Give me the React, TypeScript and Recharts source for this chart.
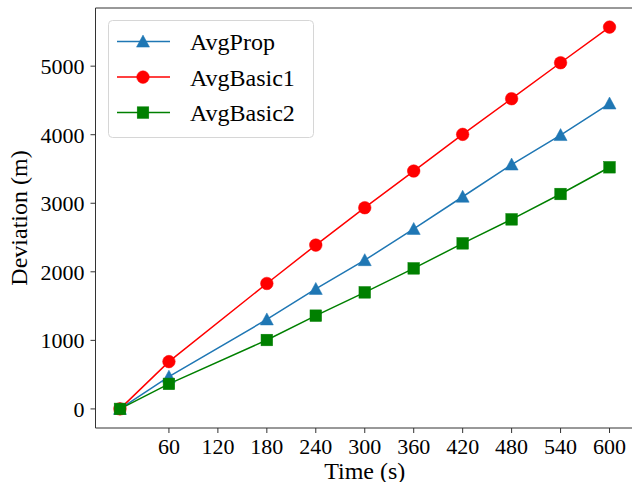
import React from 'react';
import { LineChart, Line, XAxis, YAxis, ReferenceLine, Label } from 'recharts';

const times = [0, 60, 180, 240, 300, 360, 420, 480, 540, 600];
const avgProp = [0, 470, 1305, 1750, 2170, 2625, 3095, 3565, 3995, 4455];
const avgBasic1 = [0, 690, 1830, 2390, 2935, 3470, 4005, 4525, 5050, 5570];
const avgBasic2 = [0, 365, 1005, 1360, 1700, 2050, 2415, 2765, 3135, 3525];
const xTicks = [60, 120, 180, 240, 300, 360, 420, 480, 540, 600];
const yTicks = [0, 1000, 2000, 3000, 4000, 5000];
const seriesNames = ['AvgProp', 'AvgBasic1', 'AvgBasic2'];

const X_DOMAIN: [number, number] = [-30, 630];
const Y_DOMAIN: [number, number] = [-278.5, 5848.5];

const data = times.map((t, i) => ({
  t,
  AvgProp: avgProp[i],
  AvgBasic1: avgBasic1[i],
  AvgBasic2: avgBasic2[i],
}));

const FONT = "'Liberation Serif', 'Times New Roman', Times, serif";
const BLUE = '#1f77b4';
const RED = '#ff0000';
const GREEN = '#008000';
const AXIS = '#333';

const Tri = (cx: number, cy: number, color: string, key?: any) => (
  <path key={key} d={`M${cx},${cy - 6.5} L${cx - 6.5},${cy + 5.5} L${cx + 6.5},${cy + 5.5} Z`} fill={color} stroke={color} strokeWidth={0.5} />
);
const Circ = (cx: number, cy: number, color: string, key?: any) => (
  <circle key={key} cx={cx} cy={cy} r={6.3} fill={color} stroke={color} strokeWidth={0.5} />
);
const Sq = (cx: number, cy: number, color: string, key?: any) => (
  <rect key={key} x={cx - 5.8} y={cy - 5.8} width={11.6} height={11.6} fill={color} stroke={color} strokeWidth={0.5} />
);

const markers = [Tri, Circ, Sq];
const colors = [BLUE, RED, GREEN];

const LegendBox = () => (
  <svg width={206} height={118} style={{ display: 'block' }}>
    <rect x={0.5} y={0.5} width={205} height={117} rx={4} ry={4} fill="rgba(255,255,255,0.8)" stroke="#d6d6d6" strokeWidth={1} />
    {seriesNames.map((name, i) => {
      const cy = 21.6 + i * 35.5;
      return (
        <g key={name}>
          <line x1={9} x2={62} y1={cy} y2={cy} stroke={colors[i]} strokeWidth={1.5} />
          {markers[i](35, cy, colors[i])}
          <text x={82} y={cy} dy="0.35em" style={{ fontFamily: FONT, fontSize: 24 }} fill="#000">
            {name}
          </text>
        </g>
      );
    })}
  </svg>
);

const tickStyle = { fill: '#000', fontSize: 22, style: { fontFamily: FONT } };

export default function App() {
  return (
    <div style={{ position: 'absolute', left: 0, top: 0, width: 632, height: 482, overflow: 'hidden', background: '#fff', fontFamily: FONT }}>
      <LineChart width={636} height={482} data={data} margin={{ top: 8, right: 2, bottom: 0, left: 0 }} style={{ fontFamily: FONT }}>
        <XAxis
          dataKey="t"
          type="number"
          domain={X_DOMAIN}
          ticks={xTicks}
          allowDataOverflow
          height={54}
          tickSize={5}
          tickMargin={5}
          stroke={AXIS}
          tick={tickStyle}
          axisLine={{ stroke: AXIS, strokeWidth: 1 }}
          tickLine={{ stroke: AXIS }}
        >
          <Label
            content={(p: any) => {
              const vb = p.viewBox || { x: 95.5, y: 428, width: 538.5, height: 54 };
              return (
                <text x={vb.x + vb.width / 2} y={479} textAnchor="middle" style={{ fontFamily: FONT, fontSize: 24 }} fill="#000">
                  Time (s)
                </text>
              );
            }}
          />
        </XAxis>
        <YAxis
          type="number"
          domain={Y_DOMAIN}
          ticks={yTicks}
          allowDataOverflow
          width={95.5}
          tickSize={5}
          tickMargin={6}
          stroke={AXIS}
          tick={tickStyle}
          axisLine={{ stroke: AXIS, strokeWidth: 1 }}
          tickLine={{ stroke: AXIS }}
        >
          <Label
            content={(p: any) => {
              const vb = p.viewBox || { x: 0, y: 8, width: 95.5, height: 420 };
              const cx = 26.5;
              const cy = vb.y + vb.height / 2;
              return (
                <text x={cx} y={cy} transform={`rotate(-90, ${cx}, ${cy})`} textAnchor="middle" style={{ fontFamily: FONT, fontSize: 24 }} fill="#000">
                  Deviation (m)
                </text>
              );
            }}
          />
        </YAxis>
        <ReferenceLine y={Y_DOMAIN[1]} stroke={AXIS} strokeWidth={1} />
        <Line
          dataKey="AvgProp"
          stroke={BLUE}
          strokeWidth={1.5}
          isAnimationActive={false}
          dot={(p: any) => Tri(p.cx, p.cy, BLUE, p.index)}
          activeDot={false}
        />
        <Line
          dataKey="AvgBasic1"
          stroke={RED}
          strokeWidth={1.5}
          isAnimationActive={false}
          dot={(p: any) => Circ(p.cx, p.cy, RED, p.index)}
          activeDot={false}
        />
        <Line
          dataKey="AvgBasic2"
          stroke={GREEN}
          strokeWidth={1.5}
          isAnimationActive={false}
          dot={(p: any) => Sq(p.cx, p.cy, GREEN, p.index)}
          activeDot={false}
        />
      </LineChart>
      <div style={{ position: 'absolute', left: 108, top: 20, width: 206, height: 118 }}>
        <LegendBox />
      </div>
    </div>
  );
}
